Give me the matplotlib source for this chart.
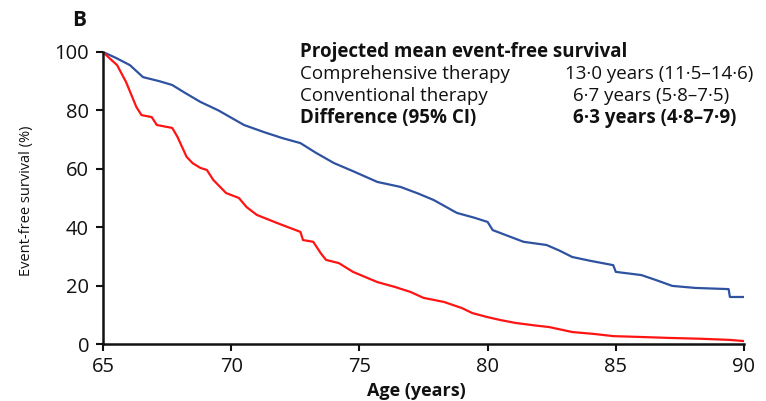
import matplotlib
matplotlib.use("Agg")
import matplotlib.pyplot as plt

# Comprehensive therapy (blue): age, event-free survival (%)
comp_age = [65.0, 65.5, 66.05, 66.56, 67.2, 67.7, 68.2, 68.8, 69.5, 70.5, 71.3, 72.0, 72.7,
             73.3, 74.0, 74.8, 75.7, 76.6, 77.3, 77.9, 78.8, 79.5, 80.0, 80.2, 80.8, 81.4,
             82.3, 82.8, 83.3, 84.0, 84.9, 85.0, 86.0, 86.6, 87.2, 88.1, 89.4, 89.45, 90.0]
comp_surv = [100, 98.0, 95.5, 91.4, 90.0, 88.7, 86.0, 82.9, 80.0, 75.0, 72.5, 70.5, 68.8,
             65.5, 62.0, 59.0, 55.5, 53.8, 51.5, 49.3, 44.9, 43.2, 41.8, 39.0, 37.0, 35.0,
             33.9, 32.0, 29.8, 28.5, 27.0, 24.7, 23.6, 21.8, 19.9, 19.2, 18.8, 16.1, 16.1]

# Conventional therapy (red)
conv_age = [65.0, 65.3, 65.55, 65.9, 66.3, 66.5, 66.9, 67.1, 67.7, 67.9, 68.26, 68.5, 68.8,
            69.05, 69.3, 69.8, 70.3, 70.6, 71.0, 71.8, 72.7, 72.8, 73.2, 73.5, 73.7, 74.2,
            74.75, 75.7, 76.4, 77.0, 77.5, 78.3, 79.0, 79.4, 80.0, 80.5, 81.1, 81.8, 82.4,
            83.3, 84.2, 84.9, 86.0, 87.0, 88.3, 89.45, 90.0]
conv_surv = [100, 97.5, 95.5, 89.7, 81.2, 78.4, 77.7, 75.0, 74.0, 71.0, 64.1, 61.9, 60.3,
             59.6, 56.2, 51.7, 50.0, 46.9, 44.2, 41.4, 38.4, 35.6, 35.0, 31.0, 28.8, 27.7,
             24.7, 21.2, 19.5, 17.8, 15.8, 14.4, 12.3, 10.6, 9.2, 8.2, 7.2, 6.4, 5.8,
             4.1, 3.4, 2.7, 2.4, 2.1, 1.8, 1.4, 1.0]

x_ticks = [65, 70, 75, 80, 85, 90]
y_ticks = [0, 20, 40, 60, 80, 100]

summary_title = "Projected mean event-free survival"
summary_labels = ["Comprehensive therapy", "Conventional therapy", "Difference (95% CI)"]
summary_values = ["13·0 years (11·5–14·6)", "6·7 years (5·8–7·5)", "6·3 years (4·8–7·9)"]

plt.rcParams['font.family'] = ['Open Sans', 'DejaVu Sans']
txt = '#111111'

fig = plt.figure(figsize=(7.66, 4.01), dpi=100)
ax = fig.add_axes([103/766, 1-344/401, (744-103)/766, (344-52)/401])

ax.plot(comp_age, comp_surv, color='#2f52a0', lw=1.6)
ax.plot(conv_age, conv_surv, color='#ff1414', lw=1.6)

ax.set_xlim(65, 90)
ax.set_ylim(0, 100)
ax.set_xticks(x_ticks)
ax.set_yticks(y_ticks)
ax.tick_params(axis='both', direction='out', length=5, width=1.5, colors='#111111',
               labelsize=14.5, labelcolor=txt)
ax.tick_params(axis='y', pad=5)
ax.tick_params(axis='x', pad=4)
for s in ['top', 'right']:
    ax.spines[s].set_visible(False)
for s in ['left', 'bottom']:
    ax.spines[s].set_linewidth(1.8)
    ax.spines[s].set_color('#111111')

fig.text(416/766, 1-391/401, "Age (years)", fontsize=13, color=txt, fontweight='bold',
         ha='center', va='center')
ax.set_ylabel("Event-free survival (%)", fontsize=10.5, color=txt)
ax.yaxis.set_label_coords((34-103)/641, 0.49)
fig.text(72/766, 1-20/401, "B", fontsize=15, fontweight='bold', color=txt, va='center')

ys = [52, 74, 96, 118]
fs = 13.5
fig.text(300/766, 1-ys[0]/401, summary_title, fontsize=fs, fontweight='bold', color=txt, va='center')
xv = [565, 573, 573]
for i, (lab, val) in enumerate(zip(summary_labels, summary_values)):
    w = 'bold' if i == 2 else 'normal'
    fig.text(300/766, 1-ys[i+1]/401, lab, fontsize=fs, fontweight=w, color=txt, va='center')
    fig.text(xv[i]/766, 1-ys[i+1]/401, val, fontsize=fs, fontweight=w, color=txt, va='center')

fig.savefig("out.png", dpi=100)
